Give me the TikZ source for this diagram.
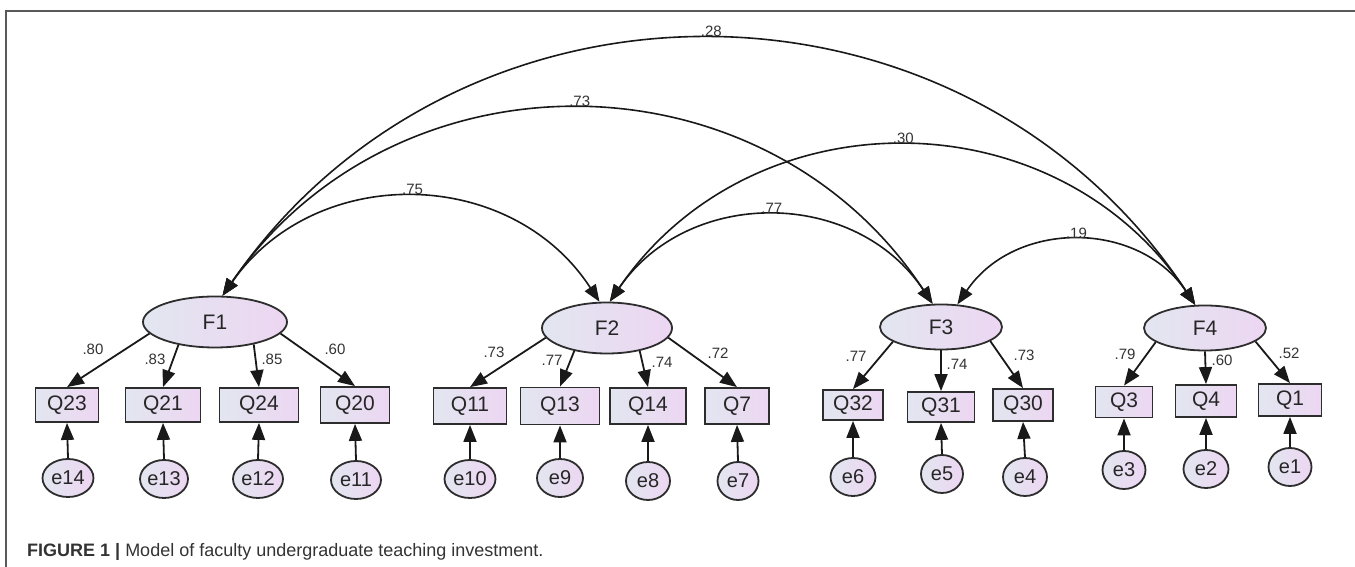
\documentclass[tikz,border=0pt]{standalone}
\usepackage{fontspec}
\setmainfont{Liberation Sans}
\usetikzlibrary{arrows.meta, shapes.geometric}

\definecolor{fillL}{RGB}{226,230,240}
\definecolor{fillR}{RGB}{237,214,242}
\definecolor{edge}{RGB}{45,45,45}

\tikzset{
  latent/.style = {ellipse, draw=edge, line width=1.8pt, left color=fillL, right color=fillR,
                   inner sep=0pt, text=black!85, font=\fontsize{21}{21}\selectfont},
  item/.style   = {rectangle, draw=edge, line width=1.8pt, left color=fillL, right color=fillR,
                   inner sep=0pt, text=black!85, font=\fontsize{21}{21}\selectfont},
  err/.style    = {ellipse, draw=edge, line width=1.8pt, left color=fillL, right color=fillR,
                   inner sep=0pt, minimum height=38pt, text=black!85, font=\fontsize{20}{20}\selectfont},
  load/.style   = {-{Triangle[length=17pt,width=13pt]}, line width=1.8pt, draw=black!90},
  cov/.style    = {{Triangle[length=17pt,width=13pt]}-{Triangle[length=17pt,width=13pt]},
                   line width=1.6pt, draw=black!90, bend left=56, looseness=1.1},
  coef/.style   = {inner sep=2pt, text=black!80, font=\fontsize{15}{15}\selectfont},
}

\begin{document}
\begin{tikzpicture}[x=1pt, y=1pt]
  \useasboundingbox (0,0) rectangle (1355,567);
  \draw[gray!70!black, line width=1.2pt] (6,0) -- (6,556) -- (1355,556);

  % factors
  \node[latent, minimum width=144pt, minimum height=51pt] (F1) at (215,245) {F1};
  \node[latent, minimum width=130pt, minimum height=51pt] (F2) at (607,239) {F2};
  \node[latent, minimum width=122pt, minimum height=45pt] (F3) at (941,240) {F3};
  \node[latent, minimum width=122pt, minimum height=45pt] (F4) at (1205,239) {F4};

  % observed items
  \foreach \n/\x/\y/\w/\h in {Q23/67/162/63/34, Q21/163/162/75/34, Q24/259/162/79/34, Q20/355/162/69/36,
                              Q11/470/161/73/36, Q13/560/161/79/37, Q14/648/161/76/36, Q7/737/161/64/36,
                              Q32/853/162/60/30, Q31/941/160/67/30, Q30/1023/162/60/32,
                              Q3/1124/165/57/31, Q4/1206/166/61/32, Q1/1290/167/63/32}
    \node[item, minimum width=\w pt, minimum height=\h pt] (\n) at (\x,\y) {\n};

  % error terms
  \foreach \n/\q/\x/\y/\w in {e14/Q23/68/89/51, e13/Q21/164/88/48, e12/Q24/258/88/50, e11/Q20/356/87/50,
                              e10/Q11/470/88/51, e9/Q13/560/89/46, e8/Q14/648/86/44, e7/Q7/738/86/41,
                              e6/Q32/853/90/45, e5/Q31/942/93/42, e4/Q30/1025/90/44,
                              e3/Q3/1124/97/43, e2/Q4/1206/98/45, e1/Q1/1290/100/43}
  {
    \node[err, minimum width=\w pt] (\n) at (\x,\y) {\n};
    \draw[load] (\n.north) -- (\q.south);
  }

  % loadings
  \foreach \f/\q/\a/\v/\x/\y [count=\i] in {F1/Q23/190/.80/93/218, F1/Q21/212/.83/155/208,
                                            F1/Q24/330/.85/272/208, F1/Q20/350/.60/335/218,
                                            F2/Q11/189/.73/494/215, F2/Q13/215/.77/552/207,
                                            F2/Q14/325/.74/662/205, F2/Q7/351/.72/718/214,
                                            F3/Q32/197/.77/856/211, F3/Q31/270/.74/957/203,
                                            F3/Q30/344/.73/1024/212, F4/Q3/196/.79/1125/213,
                                            F4/Q4/270/.60/1222/207, F4/Q1/345/.52/1289/214}
  {
    \draw[load] (\f.\a) -- (\q.north);
    \node[coef] (w\i) at (\x,\y) {\v};
  }

  % covariances
  \draw[cov] (F1.74) to node[coef, above] (r12) {.75} (F2.106);
  \draw[cov] (F1.74) to node[coef, above] (r13) {.73} (F3.110);
  \draw[cov] (F1.74) to node[coef, above] (r14) {.28} (F4.113);
  \draw[cov] (F2.84) to node[coef, above] (r23) {.77} (F3.110);
  \draw[cov] (F2.84) to node[coef, above] (r24) {.30} (F4.113);
  \draw[cov] (F3.54) to node[coef, above] (r34) {.19} (F4.113);

  \node[anchor=base west, inner sep=0pt, text=black!80, font=\fontsize{18}{18}\selectfont] (cap) at (27,10)
    {\textbf{FIGURE 1 |} Model of faculty undergraduate teaching investment.};
\end{tikzpicture}
\end{document}
